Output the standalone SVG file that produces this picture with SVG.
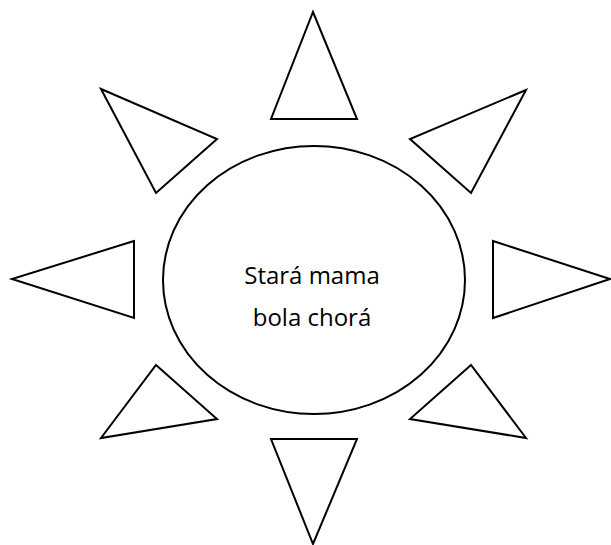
<svg xmlns="http://www.w3.org/2000/svg" width="611" height="545" viewBox="0 0 611 545">
<style>
.s{fill:#fff;stroke:#000;stroke-width:2;stroke-linejoin:miter}
.t{font-family:"Open Sans","Liberation Sans",sans-serif;font-size:24px;fill:#000;text-anchor:middle}
</style>
<rect width="611" height="545" fill="#fff"/>
<g id="ray-top"><polygon class="s" points="313,12 357,119 271,119"/></g>
<g id="ray-top-left"><polygon class="s" points="101,89 217,139 156,193"/></g>
<g id="ray-top-right"><polygon class="s" points="526,90 410,139 471,193"/></g>
<g id="ray-left"><polygon class="s" points="134,241 12,279 134,318"/></g>
<g id="ray-right"><polygon class="s" points="493,241 610,279 493,318"/></g>
<g id="ray-bottom-left"><polygon class="s" points="156,365 217,419 101,438"/></g>
<g id="ray-bottom-right"><polygon class="s" points="471,365 410,419 526,438"/></g>
<g id="ray-bottom"><polygon class="s" points="271,439 357,439 313,544"/></g>
<g id="sun">
<ellipse class="s" cx="314" cy="280" rx="151" ry="134"/>
<text class="t" x="312" y="284">Stará mama</text>
<text class="t" x="312" y="326">bola chorá</text>
</g>
<g id="connectors"/>
</svg>
